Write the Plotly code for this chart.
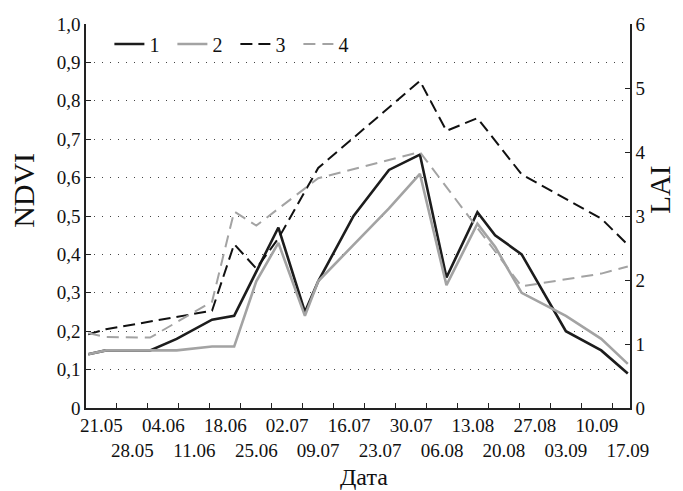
import pandas as pd
import plotly.graph_objects as go

# ---- data ----
dates_1 = ["2014-05-18", "2014-05-22", "2014-06-01", "2014-06-07", "2014-06-15", "2014-06-20",
           "2014-06-30", "2014-07-06", "2014-07-09", "2014-07-17", "2014-07-25", "2014-08-01",
           "2014-08-07", "2014-08-14", "2014-08-18", "2014-08-24", "2014-09-03", "2014-09-11",
           "2014-09-17"]
ndvi_1 = [0.14, 0.15, 0.15, 0.18, 0.23, 0.24, 0.47, 0.25, 0.33, 0.50, 0.62, 0.66,
          0.34, 0.51, 0.45, 0.40, 0.20, 0.15, 0.09]

dates_2 = ["2014-05-18", "2014-05-22", "2014-06-01", "2014-06-07", "2014-06-15", "2014-06-20",
           "2014-06-25", "2014-06-30", "2014-07-06", "2014-07-09", "2014-07-25", "2014-08-01",
           "2014-08-07", "2014-08-14", "2014-08-18", "2014-08-24", "2014-09-03", "2014-09-11",
           "2014-09-17"]
ndvi_2 = [0.14, 0.15, 0.15, 0.15, 0.16, 0.16, 0.33, 0.43, 0.24, 0.33, 0.52, 0.61,
          0.32, 0.48, 0.42, 0.30, 0.24, 0.18, 0.115]

dates_3 = ["2014-05-18", "2014-05-22", "2014-06-15", "2014-06-20", "2014-06-25", "2014-06-30",
           "2014-07-09", "2014-08-01", "2014-08-07", "2014-08-14", "2014-08-24", "2014-09-11",
           "2014-09-17"]
lai_3 = [1.15, 1.23, 1.52, 2.56, 2.18, 2.65, 3.75, 5.11, 4.33, 4.53, 3.65, 2.96, 2.55]

dates_4 = ["2014-05-18", "2014-05-22", "2014-06-01", "2014-06-15", "2014-06-20", "2014-06-25",
           "2014-07-09", "2014-08-01", "2014-08-24", "2014-09-11", "2014-09-17"]
lai_4 = [1.17, 1.11, 1.10, 1.66, 3.07, 2.85, 3.59, 4.00, 1.90, 2.10, 2.21]

series_names = ["1", "2", "3", "4"]
label_dates = pd.date_range("2014-05-21", "2014-09-17", freq="7D")
ndvi_ticks = [i / 10 for i in range(11)]
ndvi_ticktext = ["0"] + [f"{v:.1f}".replace(".", ",") for v in ndvi_ticks[1:]]
lai_ticks = list(range(7))

FONT = "Liberation Serif"
BLACK = "#1c1c1c"
GREY = "#a3a3a3"
TICKSIZE = 19

fig = go.Figure()
fig.add_trace(go.Scatter(x=dates_1, y=ndvi_1, name=series_names[0], mode="lines",
                         line=dict(color=BLACK, width=2.6)))
fig.add_trace(go.Scatter(x=dates_2, y=ndvi_2, name=series_names[1], mode="lines",
                         line=dict(color=GREY, width=2.6)))
fig.add_trace(go.Scatter(x=dates_3, y=lai_3, name=series_names[2], mode="lines", yaxis="y2",
                         line=dict(color="#111111", width=2, dash="12px,6px")))
fig.add_trace(go.Scatter(x=dates_4, y=lai_4, name=series_names[3], mode="lines", yaxis="y2",
                         line=dict(color=GREY, width=2, dash="12px,7px")))

xrange = ["2014-05-17 12:00", "2014-09-17 12:00"]
tick_marks = label_dates[:-1] + pd.Timedelta(hours=84)
ticktext = [d.strftime("%d.%m") if i % 2 == 0 else "<br>" + d.strftime("%d.%m")
            for i, d in enumerate(label_dates)]

fig.update_layout(
    width=675, height=483,
    margin=dict(l=78, r=53, t=16, b=83, autoexpand=False),
    paper_bgcolor="white", plot_bgcolor="white",
    font=dict(family=FONT, size=TICKSIZE, color="#111"),
    showlegend=True,
    legend=dict(orientation="h", x=0.043, y=0.948, xanchor="left", yanchor="middle",
                bgcolor="rgba(0,0,0,0)", font=dict(size=20, family=FONT),
                itemwidth=30, entrywidth=18, tracegroupgap=0),
    xaxis=dict(type="date", range=xrange, tickvals=list(tick_marks), showticklabels=False,
               ticks="inside", ticklen=5, tickcolor="#222", showline=True, linecolor="#222",
               linewidth=1.5, showgrid=False, zeroline=False, automargin=False),
    xaxis2=dict(type="date", range=xrange, overlaying="x", anchor="y", side="bottom",
                tickvals=list(label_dates), ticktext=ticktext, ticks="", showline=False,
                showgrid=False, zeroline=False, tickangle=0, automargin=False,
                ticklabelstandoff=4, tickfont=dict(size=TICKSIZE, family=FONT)),
    yaxis=dict(range=[0, 1], tickvals=ndvi_ticks, ticktext=ndvi_ticktext, ticks="inside",
               ticklen=5, tickcolor="#222", showline=True, linecolor="#222", linewidth=1.5,
               showgrid=True, gridcolor="#444", griddash="1px,7px", gridwidth=1.2,
               zeroline=False, automargin=False, tickfont=dict(size=TICKSIZE, family=FONT)),
    yaxis2=dict(range=[0, 6], tickvals=lai_ticks, overlaying="y", side="right", anchor="x",
                ticks="inside", ticklen=5, tickcolor="#222", showline=True, linecolor="#222",
                linewidth=1.5, showgrid=False, zeroline=False, automargin=False,
                tickfont=dict(size=TICKSIZE, family=FONT)),
    annotations=[
        dict(text="NDVI", xref="paper", yref="paper", x=-0.114, y=0.568, showarrow=False,
             xanchor="center", yanchor="middle", textangle=-90,
             font=dict(size=30, family=FONT, color="#111")),
        dict(text="LAI", xref="paper", yref="paper", x=1.055, y=0.568, showarrow=False,
             xanchor="center", yanchor="middle", textangle=-90,
             font=dict(size=29, family=FONT, color="#111")),
        dict(text="Дата", xref="paper", yref="paper", x=0.511, y=-0.18, showarrow=False,
             xanchor="center", yanchor="middle",
             font=dict(size=24, family=FONT, color="#111")),
    ],
)
# invisible trace so the label axis is drawn
fig.add_trace(go.Scatter(x=[label_dates[0]], y=[0], xaxis="x2", mode="markers",
                         marker=dict(opacity=0), showlegend=False, hoverinfo="skip"))

fig.write_html("out.html")
